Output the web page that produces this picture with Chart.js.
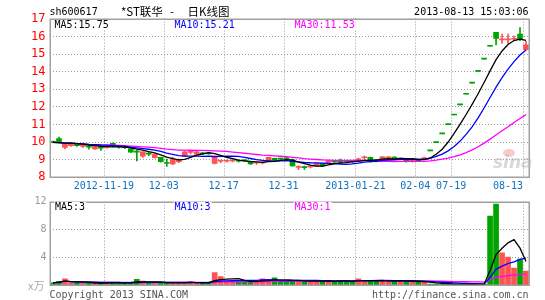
<!DOCTYPE html>
<html><head><meta charset="utf-8">
<script src="https://cdn.jsdelivr.net/npm/chart.js@4.4.0/dist/chart.umd.min.js"></script>
<style>
html,body{margin:0;padding:0;background:#fff;width:545px;height:300px;overflow:hidden}
canvas{position:absolute;left:0;top:0}
</style></head><body>
<canvas id="k" width="545" height="300"></canvas>
<canvas id="v" width="545" height="300"></canvas>
<script>
// ---------------- data ----------------
const stockCode = 'sh600617';
const stockName = '*ST联华';
const chartTitle = '日K线图';
const stamp = '2013-08-13 15:03:06';

const dates = ['2012-11-06','2012-11-07','2012-11-08','2012-11-09','2012-11-12','2012-11-13','2012-11-14','2012-11-15','2012-11-16','2012-11-19',
'2012-11-20','2012-11-21','2012-11-22','2012-11-23','2012-11-26','2012-11-27','2012-11-28','2012-11-29','2012-11-30','2012-12-03',
'2012-12-04','2012-12-05','2012-12-06','2012-12-07','2012-12-10','2012-12-11','2012-12-12','2012-12-13','2012-12-14','2012-12-17',
'2012-12-18','2012-12-19','2012-12-20','2012-12-21','2012-12-24','2012-12-25','2012-12-26','2012-12-27','2012-12-28','2012-12-31',
'2013-01-04','2013-01-07','2013-01-08','2013-01-09','2013-01-10','2013-01-11','2013-01-14','2013-01-15','2013-01-16','2013-01-17',
'2013-01-18','2013-01-21','2013-01-22','2013-01-23','2013-01-24','2013-01-25','2013-01-28','2013-01-29','2013-01-30','2013-01-31',
'2013-02-01','2013-02-04','2013-02-05','2013-02-06','2013-02-07','2013-02-08','2013-02-18','2013-07-19','2013-07-29','2013-07-30',
'2013-07-31','2013-08-01','2013-08-02','2013-08-05','2013-08-06','2013-08-07','2013-08-08','2013-08-09','2013-08-12','2013-08-13'];

const openP = [10.00,10.17,9.66,9.76,9.84,9.72,9.76,9.58,9.72,9.66,
9.90,9.75,9.70,9.58,9.42,9.17,9.30,9.08,9.10,8.77,
8.72,8.85,9.17,9.38,9.28,9.32,9.32,8.76,8.88,8.88,
8.90,8.90,8.92,8.87,8.78,8.78,8.95,9.04,9.04,9.04,
8.98,8.53,8.54,8.56,8.60,8.76,8.76,8.86,8.88,8.90,
8.86,8.90,9.08,9.10,8.93,9.00,9.08,9.12,9.00,9.00,
8.88,8.96,9.02,9.47,9.94,10.44,10.96,11.51,12.09,12.69,
13.32,13.99,14.69,15.42,16.21,15.78,15.78,15.82,16.12,15.23];
const highP = [10.02,10.26,9.87,9.95,9.86,9.85,9.78,9.74,9.74,9.76,
9.92,9.78,9.72,9.60,9.50,9.43,9.38,9.30,9.12,9.00,
9.12,9.00,9.45,9.50,9.45,9.38,9.35,9.15,8.95,8.95,
8.96,8.95,8.96,8.88,8.84,8.84,9.12,9.06,9.06,9.10,
9.00,8.62,8.60,8.62,8.80,8.78,8.92,8.90,9.00,8.92,
8.90,9.05,9.18,9.12,8.98,9.15,9.14,9.13,9.06,9.03,
9.04,8.98,9.12,9.47,9.94,10.44,10.96,11.51,12.09,12.69,
13.32,13.99,14.69,15.42,16.21,16.12,16.12,16.00,16.49,15.70];
const lowP = [9.92,9.92,9.58,9.72,9.72,9.65,9.57,9.55,9.50,9.62,
9.70,9.62,9.60,9.38,8.90,9.10,9.20,9.05,8.83,8.58,
8.68,8.80,9.15,9.30,9.25,9.25,9.28,8.72,8.80,8.82,
8.84,8.82,8.85,8.70,8.70,8.72,8.93,8.93,8.98,8.95,
8.60,8.40,8.42,8.50,8.58,8.58,8.74,8.80,8.78,8.80,
8.78,8.88,8.98,8.82,8.84,8.92,9.02,8.98,8.96,8.82,
8.82,8.86,8.98,9.47,9.94,10.44,10.96,11.51,12.09,12.69,
13.32,13.99,14.69,15.42,15.49,15.58,15.58,15.75,15.74,15.20];
const closeP = [9.95,9.93,9.85,9.89,9.76,9.83,9.68,9.72,9.62,9.72,
9.72,9.70,9.65,9.40,9.40,9.41,9.28,9.28,8.85,8.75,
8.98,8.95,9.41,9.40,9.41,9.30,9.30,9.13,8.90,8.90,
8.92,8.88,8.90,8.72,8.80,8.80,9.10,8.95,9.00,9.02,
8.62,8.55,8.52,8.58,8.76,8.60,8.90,8.84,8.84,8.85,
8.84,9.02,9.12,8.85,8.90,9.13,9.10,9.00,9.04,8.88,
9.02,8.90,9.05,9.47,9.94,10.44,10.96,11.51,12.09,12.69,
13.32,13.99,14.69,15.42,15.87,15.80,15.80,15.84,15.83,15.50];
// volume, 万
const volume = [0.3,0.5,0.9,0.3,0.3,0.25,0.3,0.3,0.3,0.3,
0.4,0.3,0.3,0.35,0.8,0.55,0.3,0.3,0.3,0.3,
0.3,0.3,0.4,0.45,0.3,0.3,0.3,1.8,1.2,0.6,
0.5,0.5,0.5,0.5,0.6,0.9,0.6,1.05,0.6,0.6,
0.6,0.5,0.6,0.5,0.6,0.6,0.6,0.5,0.6,0.6,
0.5,0.9,0.6,0.6,0.6,0.6,0.5,0.6,0.6,0.6,
0.5,0.4,0.4,0.15,0.12,0.12,0.12,0.12,0.12,0.12,
0.12,0.12,0.12,9.93,11.65,4.65,4.03,2.45,3.74,2.0];

const priceTicks = [8,9,10,11,12,13,14,15,16,17];
const volTicks = [4,8,12];
const xTickDates = ['2012-11-19','2012-12-03','2012-12-17','2012-12-31','2013-01-21','2013-02-04','2013-07-19','2013-08-13'];
const xTickText  = ['2012-11-19','12-03','12-17','12-31','2013-01-21','02-04','07-19','08-13'];

// ---------------- helpers ----------------
const GREEN = '#00a400', RED = '#ff5252', BLUE_T = '#0a72c4', GRID = '#9a9a9a', FRAME = '#a0a0a0';
const MONO = '"DejaVu Sans Mono", "Liberation Mono", monospace';
function ma(arr, n){
  return arr.map((_, i) => { const s = Math.max(0, i - n + 1); let t = 0; for (let j = s; j <= i; j++) t += arr[j]; return t / (i - s + 1); });
}
const colors = closeP.map((c, i) => c > openP[i] ? RED : GREEN);
const ma5 = ma(closeP, 5), ma10 = ma(closeP, 10), ma30 = ma(closeP, 30);
const vma5 = ma(volume, 5), vma10 = ma(volume, 10), vma30 = ma(volume, 30);
const last = dates.length - 1;

function lineDs(data, color, order){
  return {type:'line', data, borderColor:color, borderWidth:1.3, pointRadius:0, tension:0, order, spanGaps:true};
}
function drawGrid(chart, hVals){
  const {ctx, chartArea:a, scales:{x, y}} = chart;
  const slot = (x.right - x.left) / dates.length;
  ctx.save();
  ctx.strokeStyle = GRID; ctx.lineWidth = 1; ctx.setLineDash([1, 2]);
  hVals.forEach(v => {
    const py = Math.round(y.getPixelForValue(v)) + 0.5;
    ctx.beginPath(); ctx.moveTo(a.left, py); ctx.lineTo(a.right, py); ctx.stroke();
  });
  xTickDates.forEach(d => {
    const i = dates.indexOf(d);
    const px = Math.round(x.getPixelForValue(i) - slot / 2) + 0.5;
    ctx.beginPath(); ctx.moveTo(px, a.top); ctx.lineTo(px, a.bottom); ctx.stroke();
  });
  ctx.restore();
}
function drawFrame(chart){
  const {ctx, chartArea:a} = chart;
  ctx.save(); ctx.strokeStyle = FRAME; ctx.lineWidth = 1.5; ctx.setLineDash([]);
  ctx.strokeRect(Math.round(a.left) + 0.25, Math.round(a.top) + 0.25, Math.round(a.right - a.left), Math.round(a.bottom - a.top));
  ctx.restore();
}
function label(ctx, txt, x, y, color, align){
  ctx.fillStyle = color; ctx.textAlign = align || 'left'; ctx.fillText(txt, x, y);
}
function boxLabel(ctx, txt, x, y, color){
  const w = ctx.measureText(txt).width;
  ctx.fillStyle = '#fff'; ctx.fillRect(x - 1, y - 5, w + 2, 10);
  label(ctx, txt, x, y, color);
}

// ---------------- price chart ----------------
const pricePlugin = {
  id:'pricePlugin',
  beforeDatasetsDraw(chart){ drawGrid(chart, priceTicks.filter(v => v > 8 && v < 17)); },
  afterDraw(chart){
    const {ctx, chartArea:a, scales:{x, y}} = chart;
    drawFrame(chart);
    ctx.save();
    ctx.textBaseline = 'middle';
    ctx.font = '12px ' + MONO;
    priceTicks.forEach(v => label(ctx, String(v), 45.5, y.getPixelForValue(v) + 0.5, '#ff0000', 'right'));
    ctx.font = '10px ' + MONO;
    const slot = (x.right - x.left) / dates.length;
    xTickDates.forEach((d, k) => {
      const gx = x.getPixelForValue(dates.indexOf(d)) - slot / 2;
      const w = ctx.measureText(xTickText[k]).width;
      if (gx + w / 2 > a.right) label(ctx, xTickText[k], gx, 186.5, BLUE_T, 'right');
      else label(ctx, xTickText[k], gx, 186.5, BLUE_T, 'center');
    });
    boxLabel(ctx, 'MA5:' + ma5[last].toFixed(2), 54.5, 25, '#000000');
    boxLabel(ctx, 'MA10:' + ma10[last].toFixed(2), 174.5, 25, '#0000ff');
    boxLabel(ctx, 'MA30:' + ma30[last].toFixed(2), 294.5, 25, '#ff00ff');
    label(ctx, stockCode, 49.5, 12, '#000000');
    label(ctx, stamp, 528.5, 12, '#000000', 'right');
    ctx.font = '11.5px "Noto Sans CJK SC"';
    label(ctx, stockName, 121, 12, '#000000');
    label(ctx, '-', 172, 12, '#000000', 'center');
    label(ctx, chartTitle, 187.5, 12, '#000000');
    // watermark
    ctx.globalAlpha = 0.55;
    ctx.fillStyle = '#f2a0a0';
    ctx.beginPath(); ctx.ellipse(509, 153, 6, 4, 0, 0, Math.PI * 2); ctx.fill();
    ctx.fillStyle = '#b8b8b8';
    ctx.font = 'italic bold 17px "DejaVu Sans"';
    ctx.textAlign = 'left'; ctx.fillText('sina', 493, 164);
    ctx.restore();
  }
};

new Chart(document.getElementById('k'), {
  type:'bar',
  data:{ labels: dates, datasets:[
    lineDs(ma5, '#000000', 0),
    lineDs(ma10, '#0000ff', 1),
    lineDs(ma30, '#ff00ff', 2),
    {data: openP.map((o, i) => [Math.min(o, closeP[i]), Math.max(o, closeP[i])]), backgroundColor: colors,
     barThickness:5, grouped:false, minBarLength:1, order:3},
    {data: lowP.map((l, i) => [l, highP[i]]), backgroundColor: colors, barThickness:1, grouped:false, order:4}
  ]},
  options:{
    animation:false, responsive:false, events:[],
    layout:{padding:{left:50, top:18.5, right:16, bottom:123.3}},
    plugins:{legend:{display:false}, tooltip:{enabled:false}},
    scales:{ x:{display:false, offset:true}, y:{display:false, min:8, max:17} }
  },
  plugins:[pricePlugin]
});

// ---------------- volume chart ----------------
const volPlugin = {
  id:'volPlugin',
  beforeDatasetsDraw(chart){ drawGrid(chart, [4, 8]); },
  afterDraw(chart){
    const {ctx, scales:{y}} = chart;
    drawFrame(chart);
    ctx.save();
    ctx.textBaseline = 'middle';
    ctx.font = '10px ' + MONO;
    volTicks.forEach(v => label(ctx, String(v), 46.5, y.getPixelForValue(v), '#999999', 'right'));
    ctx.font = '11px "Noto Sans CJK SC"';
    label(ctx, 'x万', 44.5, 286, '#aaaaaa', 'right');
    ctx.font = '10px ' + MONO;
    boxLabel(ctx, 'MA5:' + Math.floor(vma5[last]), 55, 207, '#000000');
    boxLabel(ctx, 'MA10:' + Math.floor(vma10[last]), 174.5, 207, '#0000ff');
    boxLabel(ctx, 'MA30:' + Math.floor(vma30[last]), 294.5, 207, '#ff00ff');
    label(ctx, 'Copyright 2013 SINA.COM', 49.5, 295, '#555555');
    label(ctx, 'http://finance.sina.com.cn', 528.5, 295, '#555555', 'right');
    ctx.restore();
  }
};

new Chart(document.getElementById('v'), {
  type:'bar',
  data:{ labels: dates, datasets:[
    lineDs(vma5, '#000000', 0),
    lineDs(vma10, '#0000ff', 1),
    lineDs(vma30, '#ff00ff', 2),
    {data: volume, backgroundColor: colors, barThickness:5, grouped:false, order:3}
  ]},
  options:{
    animation:false, responsive:false, events:[],
    layout:{padding:{left:50, top:201.7, right:16, bottom:15}},
    plugins:{legend:{display:false}, tooltip:{enabled:false}},
    scales:{ x:{display:false, offset:true}, y:{display:false, min:0, max:12} }
  },
  plugins:[volPlugin]
});
</script>
</body></html>
